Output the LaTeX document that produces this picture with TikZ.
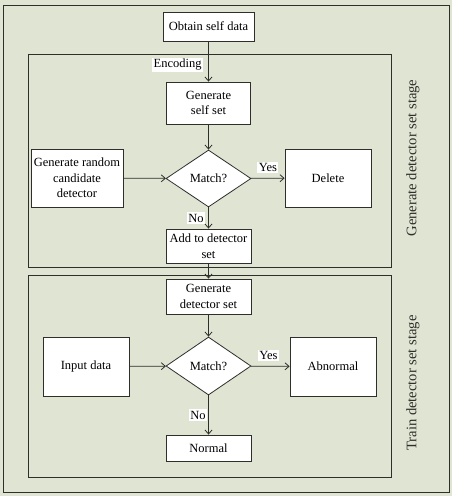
\documentclass[tikz,border=0pt]{standalone}
\usepackage{fontspec}
\setmainfont{Liberation Serif}
\usepackage{xcolor}
\usepackage{tikz}
\usetikzlibrary{positioning, arrows.meta, shapes.geometric}
\definecolor{sagebg}{HTML}{DFE4D3}
\definecolor{inkline}{HTML}{2E2E2A}

\tikzset{
  flowbox/.style={draw=inkline, fill=white, line width=0.8pt, inner sep=1pt,
                  align=center, font=\fontsize{12.5}{15.5}\selectfont},
  decide/.style={diamond, draw=inkline, fill=white, line width=0.8pt, inner sep=0pt,
                 minimum width=85pt, minimum height=57pt, font=\fontsize{12.5}{15}\selectfont},
  stagebox/.style={draw=inkline, line width=0.7pt},
  flowarrow/.style={draw=inkline, line width=0.8pt, -{Straight Barb[length=4pt, width=7pt]}},
  edgetag/.style={fill=white, inner sep=1.5pt, font=\fontsize{12.5}{14}\selectfont},
  stagetag/.style={rotate=90, font=\fontsize{14.6}{16}\selectfont, text=inkline}
}

\begin{document}
\begin{tikzpicture}[x=1pt, y=-1pt]
    \useasboundingbox (0,0) rectangle (452,496);
    \fill[sagebg] (0,0) rectangle (452,496);
    \draw[draw=inkline, line width=1pt] (3,5) rectangle (449,492);
    % the two stages
    \draw[stagebox] (28,54) rectangle (391,267);
    \draw[stagebox] (28,275) rectangle (391,477);
    \node[stagetag] (stagegen) at (413,158) {Generate detector set stage};
    \node[stagetag] (stagetrain) at (413,383) {Train detector set stage};

    % generate stage
    \node[flowbox, minimum width=91pt, minimum height=29pt] (obtain) at (208.5,26.5) {Obtain self data};
    \node[flowbox, minimum width=84pt, minimum height=42pt] (selfset) at (208.5,103) {Generate\\self set};
    \node[decide] (matchgen) at (208.5,178.5) {Match?};
    \node[flowbox, minimum width=92pt, minimum height=58pt] (candidate) at (77,178) {Generate random\\candidate\\detector};
    \node[flowbox, minimum width=86pt, minimum height=58pt] (delete) at (328,178) {Delete};
    \node[flowbox, minimum width=85pt, minimum height=34pt] (adddet) at (208.5,246) {Add to detector\\set};

    % train stage
    \node[flowbox, minimum width=85pt, minimum height=35pt] (detset) at (208.5,296.5) {Generate\\detector set};
    \node[decide, minimum height=58pt] (matchtrain) at (208.5,366) {Match?};
    \node[flowbox, minimum width=86pt, minimum height=59pt] (input) at (86,366.5) {Input data};
    \node[flowbox, minimum width=86pt, minimum height=59pt] (abnormal) at (333,366.5) {Abnormal};
    \node[flowbox, minimum width=85pt, minimum height=26pt] (normal) at (208.5,448) {Normal};

    % connectors
    \draw[flowarrow] (obtain) -- node[edgetag, left=5pt, pos=0.58] {Encoding} (selfset);
    \draw[flowarrow] (selfset) -- (matchgen);
    \draw[flowarrow] (candidate) -- (matchgen);
    \draw[flowarrow] (matchgen) -- node[edgetag, above=5pt, pos=0.5] {Yes} (delete);
    \draw[flowarrow] (matchgen) -- node[edgetag, left=3pt, pos=0.5] {No} (adddet);
    \draw[flowarrow] (adddet) -- (detset);
    \draw[flowarrow] (detset) -- (matchtrain);
    \draw[flowarrow] (input) -- (matchtrain);
    \draw[flowarrow] (matchtrain) -- node[edgetag, above=5pt, pos=0.45] {Yes} (abnormal);
    \draw[flowarrow] (matchtrain) -- node[edgetag, left=1pt, pos=0.5] {No} (normal);
\end{tikzpicture}
\end{document}
